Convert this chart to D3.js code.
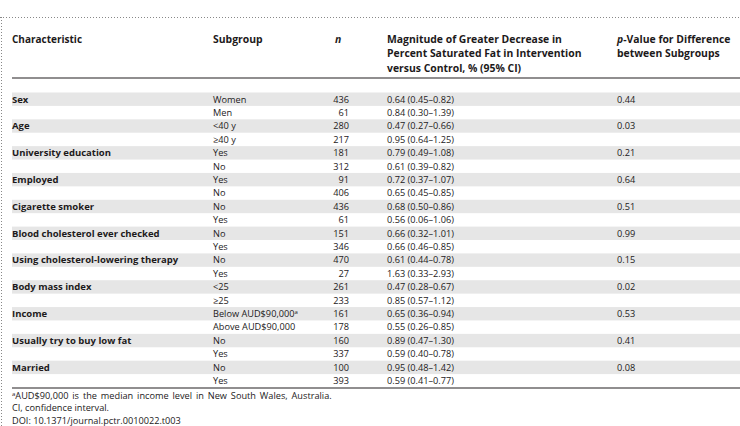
<!DOCTYPE html>
<html>
<head>
<meta charset="utf-8">
<script src="https://cdn.jsdelivr.net/npm/d3@7"></script>
<style>
  body { margin: 0; background: #fff; }
  text { font-family: "Open Sans", sans-serif; fill: #1d1a1b; }
</style>
</head>
<body>
<svg id="svg_table" width="740" height="426"></svg>
<script>
// table content
let characteristics = ['Sex', 'Age', 'University education', 'Employed', 'Cigarette smoker',
    'Blood cholesterol ever checked', 'Using cholesterol-lowering therapy', 'Body mass index',
    'Income', 'Usually try to buy low fat', 'Married'];
let pValues = ['0.44', '0.03', '0.21', '0.64', '0.51', '0.99', '0.15', '0.02', '0.53', '0.41', '0.08'];
let subgroups = ['Women', 'Men', '<40 y', '\u226540 y', 'Yes', 'No', 'Yes', 'No', 'No', 'Yes',
    'No', 'Yes', 'No', 'Yes', '<25', '\u226525', 'Below AUD$90,000', 'Above AUD$90,000',
    'No', 'Yes', 'No', 'Yes'];
let nValues = [436, 61, 280, 217, 181, 312, 91, 406, 436, 61, 151, 346, 470, 27, 261, 233, 161, 178, 160, 337, 100, 393];
let estimates = [0.64, 0.84, 0.47, 0.95, 0.79, 0.61, 0.72, 0.65, 0.68, 0.56, 0.66, 0.66, 0.61, 1.63, 0.47, 0.85, 0.65, 0.55, 0.89, 0.59, 0.95, 0.59];
let ciLow = [0.45, 0.30, 0.27, 0.64, 0.49, 0.39, 0.37, 0.45, 0.50, 0.06, 0.32, 0.46, 0.44, 0.33, 0.28, 0.57, 0.36, 0.26, 0.47, 0.40, 0.48, 0.41];
let ciHigh = [0.82, 1.39, 0.66, 1.25, 1.08, 0.82, 1.07, 0.85, 0.86, 1.06, 1.01, 0.85, 0.78, 2.93, 0.67, 1.12, 0.94, 0.85, 1.30, 0.78, 1.42, 0.77];
let headerLines = {
    mag: ['Magnitude of Greater Decrease in', 'Percent Saturated Fat in Intervention', 'versus Control, % (95% CI)'],
    p: ['-Value for Difference', 'between Subgroups']
};
let footnotes = ['AUD$90,000 is the median income level in New South Wales, Australia.',
    'CI, confidence interval.', 'DOI: 10.1371/journal.pctr.0010022.t003'];

let svg = d3.select('#svg_table');
let W = 740;
let colX = { ch: 12, sub: 213, n: 349, mag: 387, p: 617 };
let fmt = d3.format('.2f');

// frame: dotted top and left border
svg.append('line').attr('x1', 0).attr('x2', W).attr('y1', 17.5).attr('y2', 17.5)
    .attr('stroke', '#888').attr('stroke-width', 1).attr('stroke-dasharray', '1 2');
svg.append('line').attr('x1', 1.5).attr('x2', 1.5).attr('y1', 17).attr('y2', 426)
    .attr('stroke', '#888').attr('stroke-width', 1).attr('stroke-dasharray', '1 2');

// header
let head = svg.append('g').attr('font-weight', 'bold').attr('font-size', '10.4px');
head.append('text').attr('x', colX.ch).attr('y', 42.5).attr('font-size', '10px').text('Characteristic');
head.append('text').attr('x', colX.sub).attr('y', 42.5).text('Subgroup');
head.append('text').attr('x', 335).attr('y', 42.5).attr('font-style', 'italic').text('n');
head.selectAll('.magH').data(headerLines.mag).enter().append('text')
    .attr('x', colX.mag).attr('y', (d, i) => 42.5 + i * 14.6).text(d => d);
head.selectAll('.pH').data(headerLines.p).enter().append('text')
    .attr('x', colX.p).attr('y', (d, i) => 42.5 + i * 14.6)
    .each(function (d, i) {
        let t = d3.select(this);
        if (i == 0) t.append('tspan').attr('font-style', 'italic').text('p');
        t.append('tspan').text(d);
    });
svg.append('line').attr('x1', 12).attr('x2', W).attr('y1', 78).attr('y2', 78)
    .attr('stroke', '#231f20').attr('stroke-width', 1.2);

// body rows
let rowY = d3.scaleBand().domain(d3.range(subgroups.length)).range([92.5, 387.5]);
let body = svg.append('g').attr('font-size', '9.2px');
body.selectAll('.shade').data(d3.range(subgroups.length).filter(i => i % 2 == 0)).enter()
    .append('rect')
    .attr('x', 12).attr('width', W - 12)
    .attr('y', d => rowY(d)).attr('height', rowY.bandwidth())
    .attr('fill', '#e6e6e6');

let rows = body.selectAll('.row').data(subgroups).enter().append('g')
    .attr('transform', (d, i) => `translate(0,${rowY(i) + rowY.bandwidth() / 2 + 3.3})`);
// filter() re-indexes, so i below is the characteristic index
let firstRows = rows.filter((d, i) => i % 2 == 0);
firstRows.append('text')
    .attr('x', colX.ch).attr('font-weight', 'bold').attr('font-size', '9.5px')
    .text((d, i) => characteristics[i]);
firstRows.append('text').attr('x', colX.p)
    .text((d, i) => pValues[i]);
rows.append('text').attr('x', colX.sub)
    .each(function (d) {
        let t = d3.select(this);
        t.append('tspan').text(d);
        if (d.indexOf('Below') == 0) t.append('tspan').attr('font-size', '6px').attr('dy', -3.5).text('a');
    });
rows.append('text').attr('x', colX.n).attr('text-anchor', 'end').text((d, i) => nValues[i]);
rows.append('text').attr('x', colX.mag)
    .text((d, i) => `${fmt(estimates[i])} (${fmt(ciLow[i])}\u2013${fmt(ciHigh[i])})`);

svg.append('line').attr('x1', 12).attr('x2', W).attr('y1', 388).attr('y2', 388)
    .attr('stroke', '#231f20').attr('stroke-width', 1.2);

// footnotes
let foot = svg.append('g').attr('font-size', '9.2px');
foot.selectAll('.fn').data(footnotes).enter().append('text')
    .attr('x', 12).attr('y', (d, i) => 399 + i * 12.3)
    .each(function (d, i) {
        let t = d3.select(this);
        if (i == 0) {
            t.append('tspan').attr('font-size', '6px').attr('dy', -3.5).text('a');
            t.append('tspan').attr('dy', 3.5).attr('word-spacing', '1.5px').text(d);
        } else t.text(d);
    });
</script>
</body>
</html>
